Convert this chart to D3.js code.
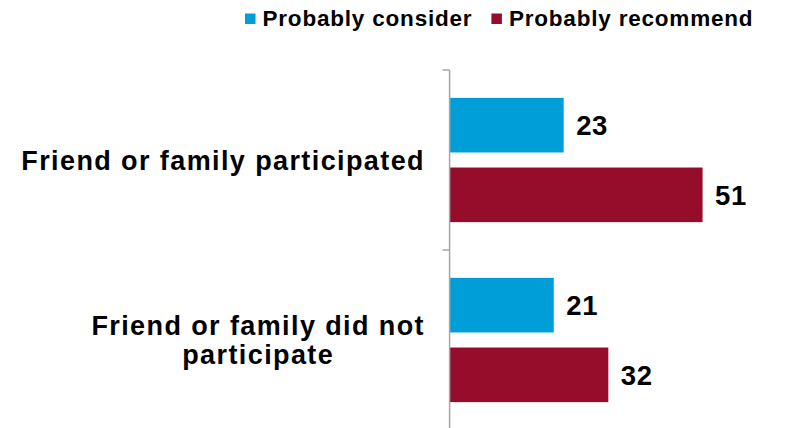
<!DOCTYPE html>
<html>
<head>
<meta charset="utf-8">
<script src="https://cdn.jsdelivr.net/npm/d3@7"></script>
<style>
  html, body { margin: 0; padding: 0; background: #ffffff; }
  svg { display: block; font-family: "Liberation Sans", Arial, Helvetica, sans-serif; }
</style>
</head>
<body>
<svg id="chart" width="792" height="428"></svg>
<script>
// Categories (each entry is a list of text lines)
const categories = [
  ["Friend or family participated"],
  ["Friend or family did not", "participate"]
];
const seriesNames = ["Probably consider", "Probably recommend"];
const seriesColors = ["#009ed9", "#960c2b"];
const considerValues = [23, 21];
const recommendValues = [51, 32];

const seriesValues = [considerValues, recommendValues];
const rows = categories.map((c, i) => ({
  key: c.join(" "),
  lines: c,
  values: seriesNames.map((s, j) => ({ series: s, value: seriesValues[j][i], color: seriesColors[j] }))
}));

const svg = d3.select("#chart");
const plot = { left: 449.6, top: 70, bottom: 430, right: 747.2 };

const y = d3.scaleBand()
  .domain(rows.map(d => d.key))
  .range([plot.top, plot.bottom])
  .paddingInner(0).paddingOuter(0);

const ySeries = d3.scaleBand()
  .domain(seriesNames)
  .range([0, y.bandwidth()])
  .paddingInner(0.216)
  .paddingOuter(0.4);

const x = d3.scaleLinear().domain([0, 60]).range([plot.left, plot.right]);

// Bars
const groups = svg.append("g").selectAll("g")
  .data(rows).join("g")
  .attr("transform", d => `translate(0,${y(d.key)})`);

groups.selectAll("rect")
  .data(d => d.values).join("rect")
  .attr("x", x(0))
  .attr("y", d => ySeries(d.series))
  .attr("width", d => x(d.value) - x(0))
  .attr("height", ySeries.bandwidth())
  .attr("fill", d => d.color);

// Value labels
groups.selectAll("text.val")
  .data(d => d.values).join("text")
  .attr("class", "val")
  .attr("x", d => x(d.value) + 12.5)
  .attr("y", d => ySeries(d.series) + ySeries.bandwidth() / 2 + 10)
  .attr("font-size", 27.5)
  .attr("font-weight", "bold")
  .attr("letter-spacing", 0.6)
  .attr("fill", "#000")
  .text(d => d.value);

// Category axis: vertical line with ticks at band boundaries
const axisG = svg.append("g").attr("stroke", "#a6a6a6").attr("stroke-width", 1.5);
axisG.append("line")
  .attr("x1", plot.left).attr("x2", plot.left)
  .attr("y1", plot.top).attr("y2", plot.bottom);
const boundaries = rows.map(d => y(d.key)).concat([plot.bottom]);
axisG.selectAll("line.tick")
  .data(boundaries).join("line")
  .attr("class", "tick")
  .attr("x1", plot.left - 7).attr("x2", plot.left)
  .attr("y1", d => d).attr("y2", d => d);

// Category labels: block right-aligned to the axis, lines centred within the block
const labelRight = 425;
const lineH = 29.3;
rows.forEach(d => {
  const cy = y(d.key) + y.bandwidth() / 2;
  const t = svg.append("text")
    .attr("font-size", 27)
    .attr("font-weight", "bold")
    .attr("letter-spacing", 1.4)
    .attr("fill", "#000")
    .attr("text-anchor", "middle");
  const firstBase = cy - (d.lines.length - 1) * lineH / 2 + 9.6;
  const spans = d.lines.map((ln, i) => t.append("tspan")
    .attr("y", firstBase + i * lineH)
    .text(ln));
  const widths = spans.map(s => s.node().getComputedTextLength());
  const blockW = d3.max(widths);
  const cx = labelRight - blockW / 2;
  spans.forEach(s => s.attr("x", cx));
});

// Legend
const legend = svg.append("g");
let lx = 245;
seriesNames.forEach((s, i) => {
  legend.append("rect")
    .attr("x", lx).attr("y", 13.5)
    .attr("width", 10.5).attr("height", 10.5)
    .attr("fill", seriesColors[i]);
  const t = legend.append("text")
    .attr("x", lx + 17.5).attr("y", 26)
    .attr("font-size", 22.5)
    .attr("font-weight", "bold")
    .attr("letter-spacing", 0.8)
    .attr("fill", "#000")
    .text(s);
  lx += 17.5 + t.node().getComputedTextLength() + 19;
});
</script>
</body>
</html>
